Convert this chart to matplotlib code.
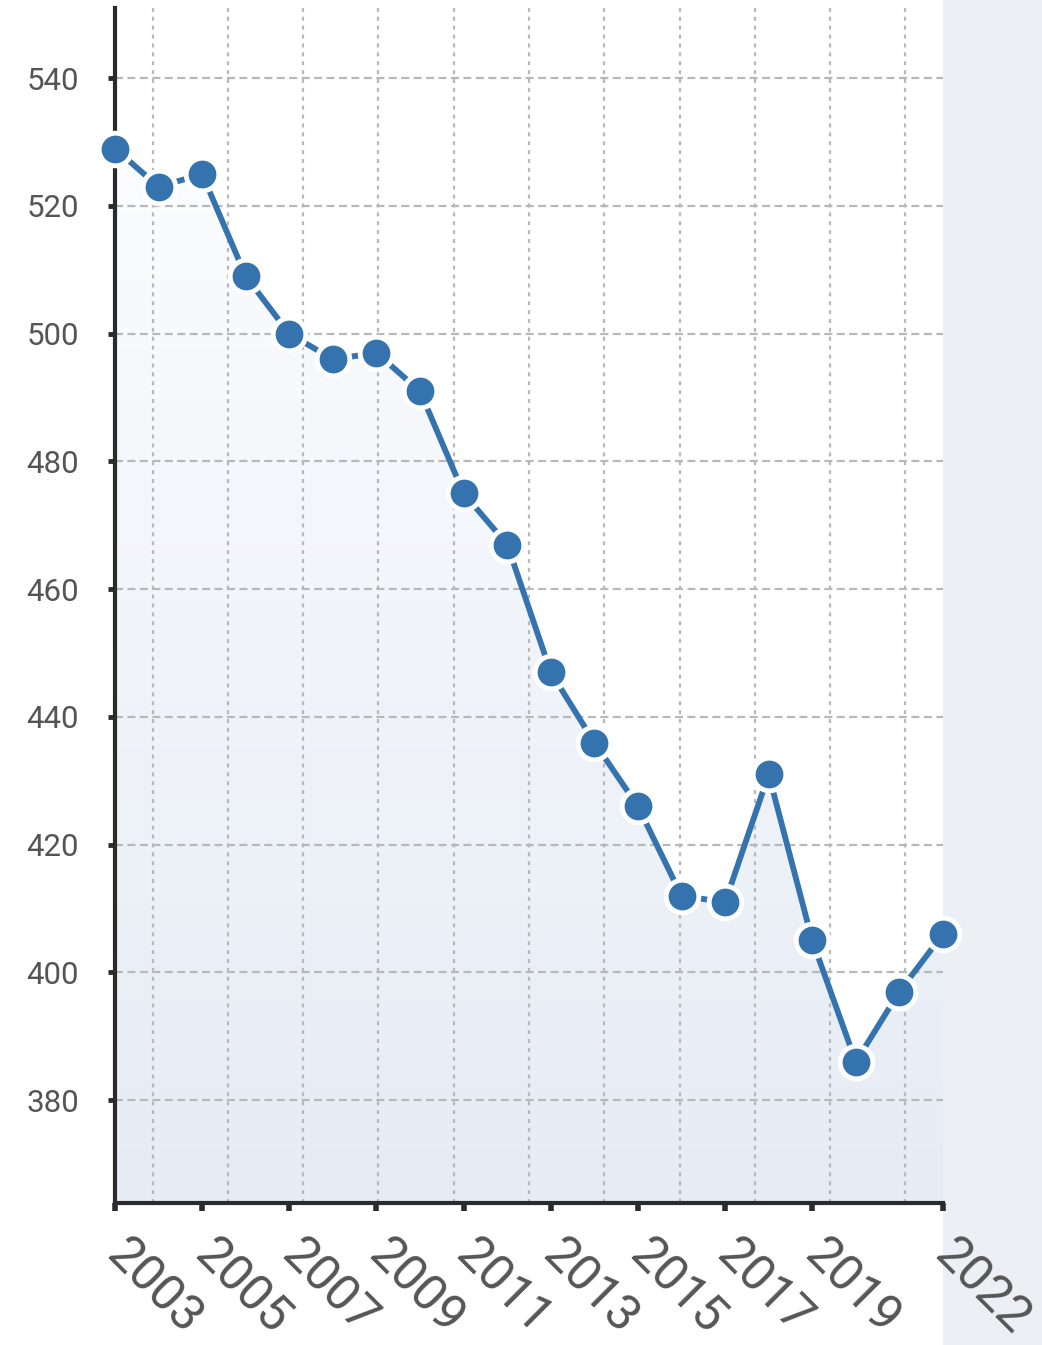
import numpy as np
import matplotlib
matplotlib.use('Agg')
import matplotlib.pyplot as plt
from matplotlib.colors import LinearSegmentedColormap
from matplotlib.patches import Rectangle, Polygon

plt.rcParams['font.family'] = ['Roboto', 'DejaVu Sans']

# data
years = list(range(2003, 2023))
values = [529, 523, 525, 509, 500, 496, 497, 491, 475, 467,
          447, 436, 426, 412, 411, 431, 405, 386, 397, 406]
x_ticks = [2003, 2005, 2007, 2009, 2011, 2013, 2015, 2017, 2019, 2022]
y_ticks = [380, 400, 420, 440, 460, 480, 500, 520, 540]

LINE = '#3473ad'
GRID = '#b8b8b8'
SPINE = '#2b2b2b'
LABEL = '#555555'
SIDE = '#eceff3'

fig = plt.figure(figsize=(10.42, 13.45), dpi=100)
fig.patch.set_facecolor('white')
# grey band right of the plot area
fig.patches.append(Rectangle((943 / 1042, 0), 1 - 943 / 1042, 1,
                             transform=fig.transFigure, facecolor=SIDE,
                             edgecolor='none', zorder=-1))

ax = fig.add_axes([115 / 1042, 142 / 1345, 828 / 1042, 1195 / 1345])
ax.set_zorder(2)
ax.set_facecolor('white')
ax.set_xlim(2003, 2022)
ax.set_ylim(363.9, 551)

# gradient area under the line
ymin = ax.get_ylim()[0]
cmap = LinearSegmentedColormap.from_list('fade', ['#fbfcfe', '#e6ecf5'])
grad = np.linspace(0, 1, 256).reshape(-1, 1)
img = ax.imshow(grad, cmap=cmap, aspect='auto', origin='upper',
                extent=[years[0], years[-1], ymin, max(values)], zorder=1)
verts = [(years[0], ymin)] + list(zip(years, values)) + [(years[-1], ymin)]
clip = Polygon(verts, closed=True, facecolor='none', edgecolor='none')
ax.add_patch(clip)
img.set_clip_path(clip)

# grid
ax.set_yticks(y_ticks)
ax.set_xticks(x_ticks)
ax.set_xticks([years[0] + (years[-1] - years[0]) * (i + 0.5) / 11 for i in range(11)],
              minor=True)
ax.grid(axis='y', which='major', color=GRID, lw=1.6, ls=(0, (3.6, 2.0)), zorder=2)
ax.grid(axis='x', which='minor', color=GRID, lw=1.6, ls=(0, (1.8, 2.2)), zorder=2)
ax.grid(axis='x', which='major', visible=False)

ax.plot(years, values, color=LINE, lw=4.2, marker='o', ms=23.5,
        markerfacecolor=LINE, markeredgecolor='white', mew=3.5,
        clip_on=False, zorder=5)

for side in ('top', 'right'):
    ax.spines[side].set_visible(False)
for side in ('left', 'bottom'):
    ax.spines[side].set_color(SPINE)
    ax.spines[side].set_linewidth(3)

ax.tick_params(axis='y', which='major', length=5, width=3.5, color=SPINE,
               labelsize=22.5, labelcolor=LABEL, pad=21)
ax.tick_params(axis='x', which='major', length=6, width=4, color=SPINE,
               labelsize=36, labelcolor=LABEL, pad=26)
ax.tick_params(axis='x', which='minor', length=0)
ax.set_xticklabels([str(y) for y in x_ticks], rotation=-45, ha='left',
                   va='center', rotation_mode='anchor')

fig.savefig('out.png', dpi=100, facecolor=fig.get_facecolor())
